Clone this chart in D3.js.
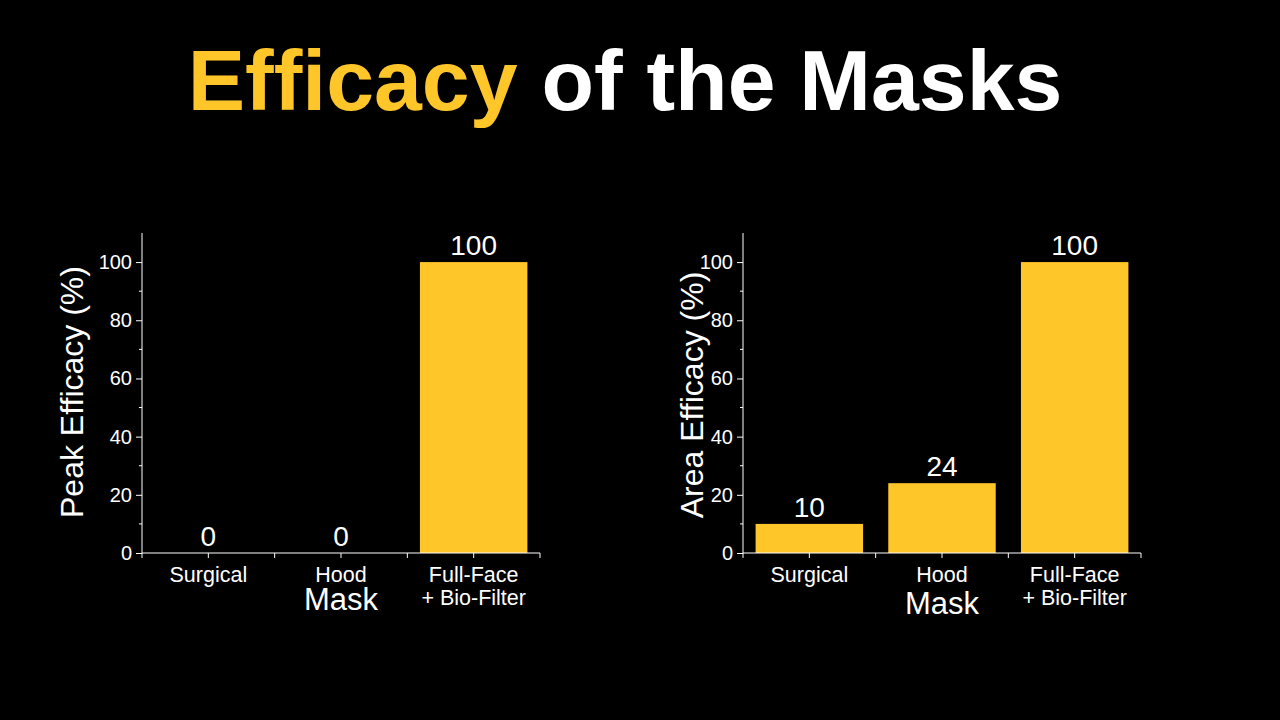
<!DOCTYPE html>
<html>
<head>
<meta charset="utf-8">
<script src="https://cdn.jsdelivr.net/npm/d3@7"></script>
<style>
  html, body { margin: 0; padding: 0; background: #000; }
  svg { display: block; font-family: "Liberation Sans", Arial, sans-serif; }
</style>
</head>
<body>
<svg id="chart" width="1280" height="720"></svg>
<script>
const categories = ['Surgical', 'Hood', 'Full-Face\n+ Bio-Filter'];
const peakValues = [0, 0, 100];
const areaValues = [10, 24, 100];
const yTicks = [0, 20, 40, 60, 80, 100];
const yMinorTicks = [10, 30, 50, 70, 90];

const yellow = '#FFC629';
const svg = d3.select('#chart');

svg.append('rect').attr('width', 1280).attr('height', 720).attr('fill', '#000');

// title
const title = svg.append('text')
  .attr('x', 625)
  .attr('y', 110)
  .attr('text-anchor', 'middle')
  .attr('font-size', 86)
  .attr('font-weight', 'bold');
title.append('tspan').attr('fill', yellow).text('Efficacy');
title.append('tspan').attr('fill', '#fff').text(' of the Masks');

const y = d3.scaleLinear().domain([0, 110]).range([553, 233]);

function drawPanel(left, values, yTitle, titleX, titleY, maskY) {
  const x = d3.scaleBand().domain(categories).range([left, left + 398]).paddingInner(0.19).paddingOuter(0.095);
  const g = svg.append('g');

  // bars
  g.selectAll('rect.bar')
    .data(values)
    .join('rect')
    .attr('class', 'bar')
    .attr('x', (d, i) => x(categories[i]))
    .attr('y', d => y(d))
    .attr('width', x.bandwidth())
    .attr('height', d => y(0) - y(d))
    .attr('fill', yellow);

  // value labels
  g.selectAll('text.val')
    .data(values)
    .join('text')
    .attr('class', 'val')
    .attr('x', (d, i) => x(categories[i]) + x.bandwidth() / 2)
    .attr('y', d => y(d) - 7)
    .attr('text-anchor', 'middle')
    .attr('fill', '#fff')
    .attr('font-size', 28)
    .text(d => d);

  // y axis
  const yAxis = g.append('g')
    .attr('transform', `translate(${left},0)`)
    .call(d3.axisLeft(y).tickValues(yTicks).tickSize(6).tickPadding(4));
  yAxis.attr('font-family', null).attr('font-size', null);
  yAxis.select('.domain').attr('stroke', '#fff').attr('d', `M0,${y(0)}V${y(110)}`);
  yAxis.selectAll('.tick line').attr('stroke', '#fff');
  yAxis.selectAll('.tick text').attr('fill', '#fff').attr('font-size', 20);
  yAxis.selectAll('line.minor')
    .data(yMinorTicks)
    .join('line')
    .attr('class', 'minor')
    .attr('x1', -3).attr('x2', 0)
    .attr('y1', d => y(d)).attr('y2', d => y(d))
    .attr('stroke', '#fff');

  // x axis
  const xg = g.append('g').attr('transform', `translate(0,${y(0)})`);
  xg.append('line').attr('x1', left).attr('x2', left + 398).attr('stroke', '#fff');
  const tickXs = d3.range(7).map(i => left + i * 398 / 6);
  xg.selectAll('line.xt')
    .data(tickXs)
    .join('line')
    .attr('class', 'xt')
    .attr('x1', d => d).attr('x2', d => d)
    .attr('y1', 0).attr('y2', 5)
    .attr('stroke', '#fff');

  const labels = xg.selectAll('text.xl')
    .data(categories)
    .join('text')
    .attr('class', 'xl')
    .attr('x', d => x(d) + x.bandwidth() / 2)
    .attr('y', 29)
    .attr('text-anchor', 'middle')
    .attr('fill', '#fff')
    .attr('font-size', 21.5);
  labels.each(function(d) {
    const t = d3.select(this);
    d.split('\n').forEach((line, i) => {
      t.append('tspan').attr('x', x(d) + x.bandwidth() / 2).attr('dy', i ? 23 : 0).text(line);
    });
  });

  // axis titles
  svg.append('text')
    .attr('transform', `translate(${titleX},${titleY}) rotate(-90)`)
    .attr('text-anchor', 'middle')
    .attr('fill', '#fff')
    .attr('font-size', 32)
    .text(yTitle);

  svg.append('text')
    .attr('x', x(categories[1]) + x.bandwidth() / 2)
    .attr('y', maskY)
    .attr('text-anchor', 'middle')
    .attr('fill', '#fff')
    .attr('font-size', 31)
    .text('Mask');
}

drawPanel(142, peakValues, 'Peak Efficacy (%)', 83, 392, 610);
drawPanel(743, areaValues, 'Area Efficacy (%)', 703, 395, 614);
</script>
</body>
</html>
